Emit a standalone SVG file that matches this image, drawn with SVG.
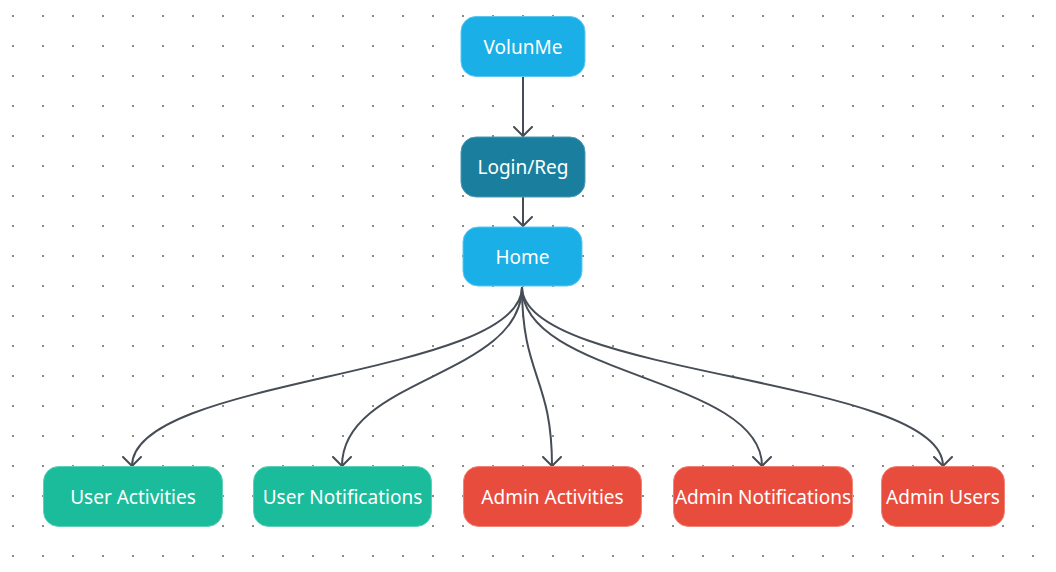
<svg xmlns="http://www.w3.org/2000/svg" width="1056" height="572" viewBox="0 0 1056 572">
<defs>
<pattern id="dots" x="12" y="15" width="30" height="30" patternUnits="userSpaceOnUse">
<rect x="0" y="0" width="2" height="2" fill="#8a8a8a"/>
</pattern>
<marker id="arr" markerWidth="20" markerHeight="20" refX="10" refY="10" orient="auto" markerUnits="userSpaceOnUse">
<path d="M1,1 L10,10 L1,19" fill="none" stroke="#474d56" stroke-width="2" stroke-linecap="round" stroke-linejoin="round"/>
</marker>
<style>
.n rect{rx:15px;ry:15px}
.blue rect{fill:#1aafe6;stroke:#5cc8ee;stroke-width:1}
.dark rect{fill:#1a7f9e;stroke:#4b9ab3;stroke-width:1}
.green rect{fill:#1abc9c;stroke:#5fd0b8;stroke-width:1}
.red rect{fill:#e84c3d;stroke:#f08276;stroke-width:1}
.n text{fill:#ffffff;font-family:"Noto Sans","Open Sans",sans-serif;font-size:19px;text-anchor:middle;dominant-baseline:central}
.c path{fill:none;stroke:#474d56;stroke-width:2;marker-end:url(#arr)}
</style>
</defs>
<rect width="1056" height="572" fill="#ffffff"/>
<rect width="1056" height="572" fill="url(#dots)"/>
<g id="connectors" class="c">
<path d="M523,77 L523,136"/>
<path d="M523,197 L523,226"/>
<path d="M522,287 C522,377 132,377 132,466"/>
<path d="M522,287 C522,377 342,377 342,466"/>
<path d="M522,287 C522,377 552,377 552,466"/>
<path d="M522,287 C522,377 762,377 762,466"/>
<path d="M522,287 C522,377 943,377 943,466"/>
</g>
<g id="volunme" class="n blue"><rect x="461" y="16.5" width="124" height="60"/><text x="523" y="47">VolunMe</text></g>
<g id="loginreg" class="n dark"><rect x="461" y="137" width="124" height="60"/><text x="523" y="167">Login/Reg</text></g>
<g id="home" class="n blue"><rect x="463" y="227" width="119" height="59"/><text x="522.5" y="257">Home</text></g>
<g id="useractivities" class="n green"><rect x="43.5" y="466.5" width="179" height="60"/><text x="133" y="497">User Activities</text></g>
<g id="usernotifications" class="n green"><rect x="253.5" y="466.5" width="178" height="60"/><text x="342.5" y="497">User Notifications</text></g>
<g id="adminactivities" class="n red"><rect x="463.5" y="466.5" width="178" height="60"/><text x="552.5" y="497">Admin Activities</text></g>
<g id="adminnotifications" class="n red"><rect x="673.5" y="466.5" width="179" height="60"/><text x="763" y="497">Admin Notifications</text></g>
<g id="adminusers" class="n red"><rect x="881.5" y="466.5" width="123" height="60"/><text x="943" y="497">Admin Users</text></g>
</svg>
